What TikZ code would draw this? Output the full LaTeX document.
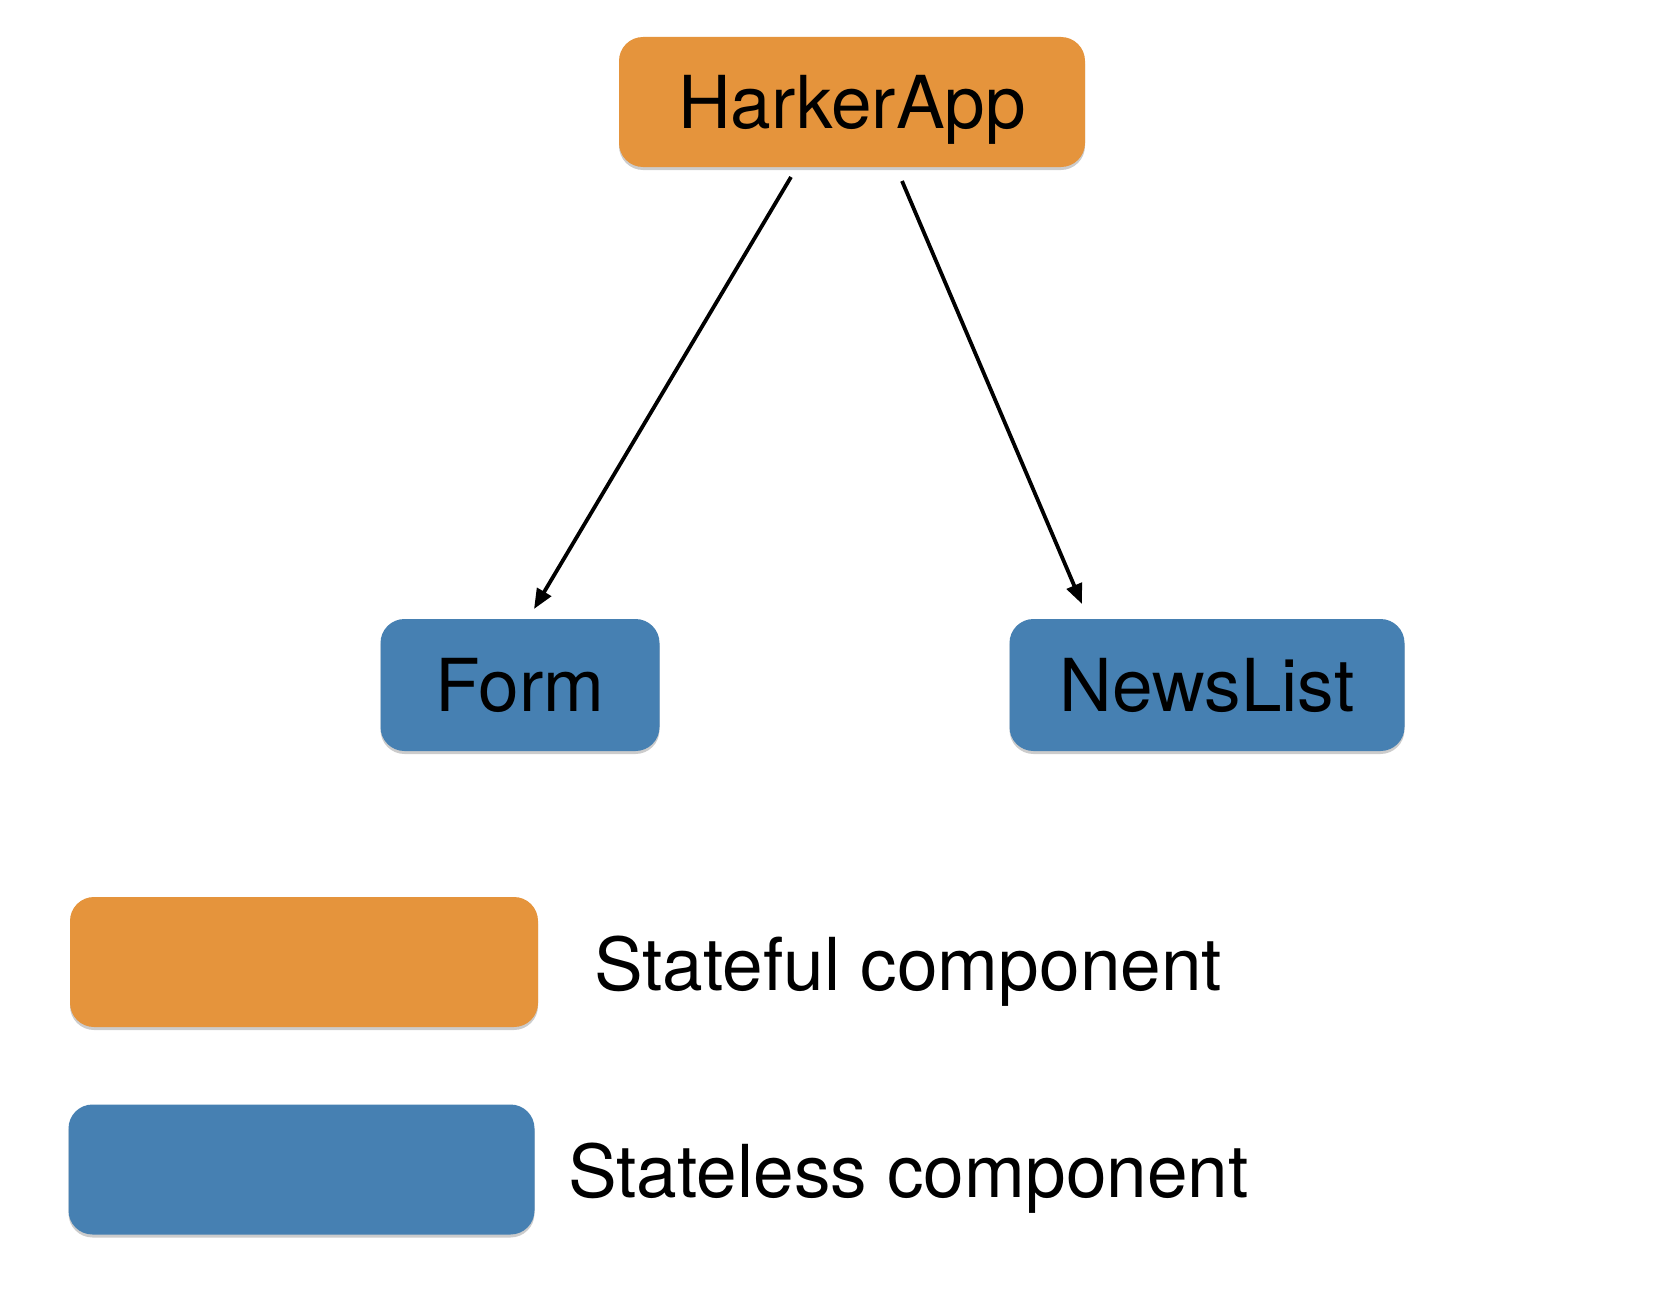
\documentclass[tikz,border=0pt]{standalone}
\usepackage{fontspec}
\setmainfont{TeX Gyre Heros}
\usetikzlibrary{arrows.meta,shadows}
\definecolor{stateful}{HTML}{E5943C}
\definecolor{stateless}{HTML}{4680B2}
\tikzset{
  comp/.style={rounded corners=24pt, inner sep=0pt, font=\fontsize{73}{80}\selectfont,
    text height=53pt, text depth=0pt,
    drop shadow={shadow xshift=0pt, shadow yshift=-3pt, fill=black, opacity=0.2}},
  full/.style={comp, fill=stateful},
  less/.style={comp, fill=stateless},
  link/.style={line width=3.8pt, -{Triangle[length=20pt,width=16pt]}},
  legend/.style={anchor=base west, inner sep=0pt, font=\fontsize{73}{80}\selectfont}
}
\begin{document}
\begin{tikzpicture}[x=1pt,y=-1pt]
\useasboundingbox[fill=white] (0,0) rectangle (1670,1306);
\node[full, minimum width=466pt, minimum height=130pt] (H) at (852,102) {HarkerApp};
\node[less, minimum width=279pt, minimum height=132pt] (F) at (520,685) {Form};
\node[less, minimum width=395pt, minimum height=132pt] (N) at (1207,685) {NewsList};
\coordinate (a1s) at (791,177);
\coordinate (a1e) at (534,609);
\coordinate (a2s) at (902,181);
\coordinate (a2e) at (1082,604);
\draw[link] (a1s) -- (a1e);
\draw[link] (a2s) -- (a2e);
\node[full, minimum width=468pt, minimum height=130pt] (L1) at (304,962) {};
\node[less, minimum width=466pt, minimum height=130pt] (L2) at (301.5,1169.5) {};
\node[legend] (T1) at (594,990) {Stateful component};
\node[legend] (T2) at (568,1197) {Stateless component};
\end{tikzpicture}
\end{document}
